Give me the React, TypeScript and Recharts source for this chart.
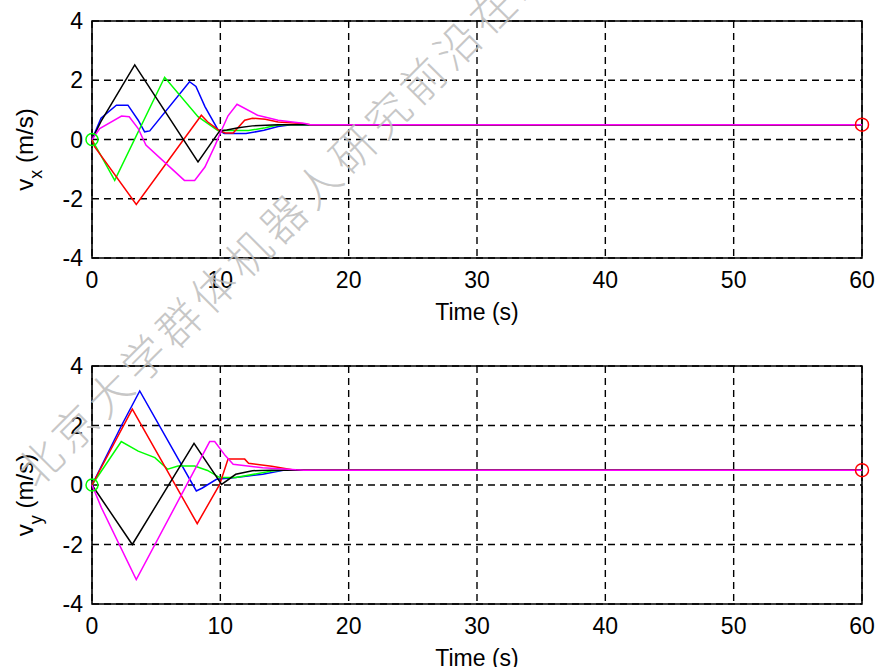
import React from 'react';
import { LineChart, Line, XAxis, YAxis, CartesianGrid, ReferenceArea, ReferenceDot } from 'recharts';

type Pt = [number, number];

// ---- vx (top panel) ----
const vxBlue: Pt[] = [[0, 0], [0.7, 0.72], [1.9, 1.16], [2.8, 1.16], [3.6, 0.65], [4.1, 0.26], [4.5, 0.29], [7.6, 1.95], [8.1, 1.79], [8.8, 1.11], [9.8, 0.34], [10.3, 0.2], [12, 0.2], [13.4, 0.31], [14.5, 0.44], [15.5, 0.5], [60, 0.5]];
const vxGreen: Pt[] = [[0, 0], [1.77, -1.38], [5.66, 2.1], [8.26, 0.77], [9.8, 0.3], [10.4, 0.3], [12.2, 0.3], [13.5, 0.4], [14.3, 0.47], [15, 0.5], [60, 0.5]];
const vxRed: Pt[] = [[0, 0], [0.2, -0.24], [3.45, -2.19], [8.52, 0.82], [9.0, 0.6], [9.95, 0.29], [10.4, 0.22], [11.0, 0.22], [11.9, 0.65], [12.5, 0.72], [13.5, 0.68], [14.5, 0.59], [16.4, 0.54], [17, 0.5], [60, 0.5]];
const vxBlack: Pt[] = [[0, 0], [0.75, 0.65], [3.33, 2.52], [8.26, -0.76], [9.95, 0.29], [10.5, 0.32], [11.4, 0.4], [12.5, 0.46], [14.5, 0.5], [60, 0.5]];
const vxMagenta: Pt[] = [[0, 0], [0.6, 0.37], [2.3, 0.79], [2.9, 0.77], [3.6, 0.37], [4.2, -0.19], [7.2, -1.38], [8.0, -1.38], [8.8, -0.93], [9.6, -0.19], [10.1, 0.32], [10.6, 0.8], [11.3, 1.19], [12.9, 0.82], [14.5, 0.65], [16.6, 0.54], [17, 0.5], [60, 0.5]];

// ---- vy (bottom panel) ----
const vyBlue: Pt[] = [[0, 0], [2.3, 2.0], [3.72, 3.16], [8.13, -0.2], [8.6, -0.1], [9.7, 0.19], [11.2, 0.25], [13.3, 0.36], [15.0, 0.5], [60, 0.5]];
const vyGreen: Pt[] = [[0, 0], [2.28, 1.46], [3.6, 1.14], [4.9, 0.92], [5.9, 0.53], [6.7, 0.64], [8.0, 0.64], [9.0, 0.49], [9.95, 0.25], [11.2, 0.25], [14, 0.47], [15, 0.5], [60, 0.5]];
const vyRed: Pt[] = [[0, 0], [3.14, 2.55], [8.2, -1.3], [9.95, 0.02], [10.6, 0.87], [11.9, 0.87], [12.2, 0.73], [14, 0.63], [15.6, 0.51], [16, 0.5], [60, 0.5]];
const vyBlack: Pt[] = [[0, 0], [3.14, -2.0], [7.95, 1.4], [10.1, 0.02], [11.2, 0.36], [12.5, 0.48], [14, 0.5], [60, 0.5]];
const vyMagenta: Pt[] = [[0, 0], [0.73, -0.76], [3.45, -3.18], [9.17, 1.46], [9.56, 1.46], [10.4, 0.98], [11.0, 0.7], [13.3, 0.58], [15.9, 0.51], [16.5, 0.5], [60, 0.5]];

const xTicks = [0, 10, 20, 30, 40, 50, 60];
const yTicks = [-4, -2, 0, 2, 4];
const startMarker: Pt = [0, 0];
const endMarker: Pt = [60, 0.5];
const watermark = '北京大学群体机器人研究前沿在线';

const toRows = (pts: Pt[]) => pts.map(([t, v]) => ({ t, v }));

const FONT = 'Liberation Sans, Arial, sans-serif';

type Series = { color: string; pts: Pt[] };

function Panel({ series, sub, height, margin }: { series: Series[]; sub: string; height: number; margin: any }) {
  return (
    <LineChart width={878} height={height} margin={margin}>
      <CartesianGrid stroke="#000" strokeWidth={1.4} strokeDasharray="7 5" />
      <XAxis
        type="number"
        dataKey="t"
        domain={[0, 60]}
        ticks={xTicks}
        allowDuplicatedCategory={false}
        axisLine={false}
        tickLine={false}
        tickSize={6}
        tickMargin={8}
        height={60}
        tick={{ fill: '#000', fontSize: 23, fontFamily: FONT }}
        label={{
          content: (p: any) => {
            const vb = p.viewBox || {};
            return (
              <text x={vb.x + vb.width / 2} y={vb.y + 62} textAnchor="middle" fontSize={23} fontFamily={FONT} fill="#000">
                Time (s)
              </text>
            );
          },
        }}
      />
      <YAxis
        type="number"
        domain={[-4, 4]}
        ticks={yTicks}
        axisLine={false}
        tickLine={false}
        tickSize={6}
        tickMargin={3}
        width={60}
        tick={{ fill: '#000', fontSize: 23, fontFamily: FONT }}
        label={{
          content: (p: any) => {
            const vb = p.viewBox || {};
            const cx = 33;
            const cy = vb.y + vb.height / 2 + 10;
            return (
              <text x={cx} y={cy} transform={`rotate(-90 ${cx} ${cy})`} textAnchor="middle" fontSize={24} fontFamily={FONT} fill="#000">
                <tspan>v</tspan>
                <tspan dy={9} fontSize={18}>{sub}</tspan>
                <tspan dy={-9}> (m/s)</tspan>
              </text>
            );
          },
        }}
      />
      <ReferenceArea x1={0} x2={60} y1={-4} y2={4} fill="none" fillOpacity={0} stroke="#000" strokeWidth={1.6} ifOverflow="visible" />
      {series.map((s, i) => (
        <Line
          key={i}
          data={toRows(s.pts)}
          dataKey="v"
          type="linear"
          stroke={s.color}
          strokeWidth={1.5}
          dot={false}
          activeDot={false}
          isAnimationActive={false}
        />
      ))}
      <ReferenceDot x={startMarker[0]} y={startMarker[1]} r={6} fill="none" stroke="#00ff00" strokeWidth={1.5} ifOverflow="visible" />
      <ReferenceDot x={endMarker[0]} y={endMarker[1]} r={6.5} fill="none" stroke="#ff0000" strokeWidth={1.5} ifOverflow="visible" />
    </LineChart>
  );
}

export default function App() {
  const top: Series[] = [
    { color: '#0000ff', pts: vxBlue },
    { color: '#00ff00', pts: vxGreen },
    { color: '#ff0000', pts: vxRed },
    { color: '#000000', pts: vxBlack },
    { color: '#ff00ff', pts: vxMagenta },
  ];
  const bottom: Series[] = [
    { color: '#0000ff', pts: vyBlue },
    { color: '#00ff00', pts: vyGreen },
    { color: '#ff0000', pts: vyRed },
    { color: '#000000', pts: vyBlack },
    { color: '#ff00ff', pts: vyMagenta },
  ];
  const wx = 36;
  const wy = 490;
  return (
    <div style={{ position: 'absolute', left: 0, top: 0, width: 878, height: 667, overflow: 'hidden', background: '#fff' }}>
      <div style={{ position: 'absolute', left: 0, top: 0 }}>
        <Panel series={top} sub="x" height={340} margin={{ top: 21, right: 16, bottom: 22, left: 32 }} />
      </div>
      <div style={{ position: 'absolute', left: 0, top: 345 }}>
        <Panel series={bottom} sub="y" height={322} margin={{ top: 21, right: 16, bottom: 3, left: 32 }} />
      </div>
      <svg width={878} height={667} style={{ position: 'absolute', left: 0, top: 0, pointerEvents: 'none' }}>
        <text
          x={wx}
          y={wy}
          transform={`rotate(-45 ${wx} ${wy})`}
          fontSize={44}
          letterSpacing={5.2}
          fontFamily="Noto Sans CJK SC, sans-serif"
          fontWeight={300}
          fill="#bdbdbd"
          fillOpacity={0.85}
        >
          {watermark}
        </text>
      </svg>
    </div>
  );
}
